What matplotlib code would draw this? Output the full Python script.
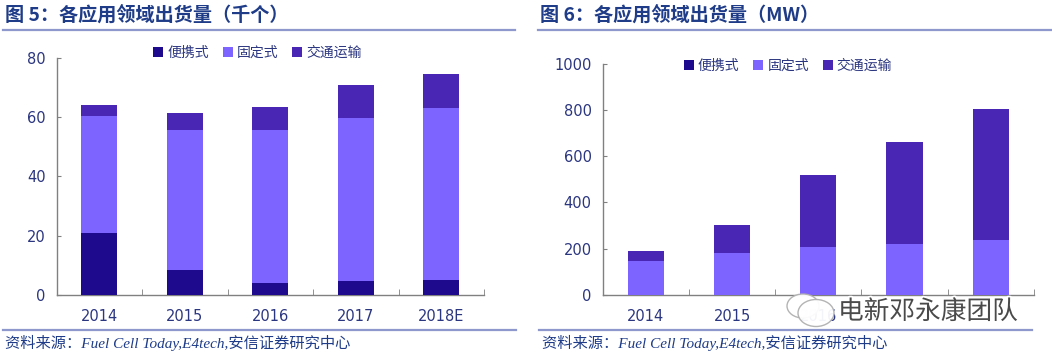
import matplotlib
matplotlib.use("Agg")
import matplotlib.pyplot as plt
from matplotlib.lines import Line2D
from matplotlib.patches import Ellipse
import matplotlib.patheffects as pe
import numpy as np

plt.rcParams['font.family'] = ['Noto Sans CJK SC', 'DejaVu Sans']

years = ["2014", "2015", "2016", "2017", "2018E"]
series_names = ["便携式", "固定式", "交通运输"]

# Chart 5: thousands of units
units_portable = [21.1, 8.5, 4.1, 4.9, 5.3]
units_fixed = [39.4, 47.1, 51.7, 54.9, 57.6]
units_transport = [3.4, 5.6, 7.6, 10.9, 11.7]

# Chart 6: MW
mw_portable = [1, 1, 1, 1, 1]
mw_fixed = [146, 182, 207, 220, 238]
mw_transport = [42, 120, 312, 441, 567]

colors = ["#1E0A8C", "#7D63FF", "#4A26B5"]
tick_color = "#2B3680"
title_color = "#1F3C88"
line_color = "#8F98CC"

W, H = 1052, 357
fig = plt.figure(figsize=(W / 100, H / 100), dpi=100)


def fx(px):
    return px / W


def fy(py):
    return 1 - py / H


def draw(ax, p, f, t, ymax, step):
    x = np.arange(len(years))
    wdt = 0.42
    ax.bar(x, p, wdt, color=colors[0], label=series_names[0], zorder=3)
    ax.bar(x, f, wdt, bottom=p, color=colors[1], label=series_names[1], zorder=3)
    bottom2 = np.array(p) + np.array(f)
    ax.bar(x, t, wdt, bottom=bottom2, color=colors[2], label=series_names[2], zorder=3)
    ax.set_xlim(-0.5, len(years) - 0.5)
    ax.set_ylim(0, ymax)
    ax.set_yticks(np.arange(0, ymax + 1, step))
    for s in ["top", "right"]:
        ax.spines[s].set_visible(False)
    for s in ["left", "bottom"]:
        ax.spines[s].set_color("#808080")
        ax.spines[s].set_linewidth(1.0)
    ax.set_xticks(x)
    ax.set_xticklabels(years)
    ax.set_xticks(np.arange(-0.5, len(years), 1.0), minor=True)
    ax.tick_params(axis="x", which="major", length=0, pad=10, labelsize=10.5,
                   labelcolor=tick_color)
    ax.tick_params(axis="x", which="minor", direction="in", length=4,
                   color="#808080")
    ax.tick_params(axis="y", direction="in", length=3, color="#808080",
                   pad=8, labelsize=10.5, labelcolor=tick_color)
    for lab in ax.get_xticklabels() + ax.get_yticklabels():
        lab.set_fontfamily(["DejaVu Sans"])
    return ax


ax1 = fig.add_axes([fx(56.6), fy(295.3), fx(484 - 56.6), (295.3 - 57.6) / H])
draw(ax1, units_portable, units_fixed, units_transport, 80, 20)
ax1.legend(loc="center", bbox_to_anchor=(0.47, 1.02), ncol=3, frameon=False,
           handlelength=0.7, handleheight=0.7, handletextpad=0.3,
           columnspacing=1.0, fontsize=10, labelcolor=tick_color)

ax2 = fig.add_axes([fx(602.8), fy(295.0), fx(1033.7 - 602.8), (295.0 - 63.7) / H])
draw(ax2, mw_portable, mw_fixed, mw_transport, 1000, 200)
ax2.legend(loc="center", bbox_to_anchor=(0.43, 0.99), ncol=3, frameon=False,
           handlelength=0.7, handleheight=0.7, handletextpad=0.3,
           columnspacing=1.0, fontsize=10, labelcolor=tick_color)

# titles
fig.text(fx(5), fy(15), "图 5：各应用领域出货量（千个）", fontsize=13.8,
         fontweight="bold", color=title_color, va="center", ha="left")
fig.text(fx(540), fy(15), "图 6：各应用领域出货量（MW）", fontsize=13.8,
         fontweight="bold", color=title_color, va="center", ha="left")

# separator lines
for (x0, x1, y) in [(3, 515, 29.5), (538, 1051, 29.5), (3, 516, 330), (539, 1032, 330)]:
    fig.add_artist(Line2D([fx(x0), fx(x1)], [fy(y), fy(y)], color=line_color,
                          lw=1.6, transform=fig.transFigure))

# sources
src = "资料来源：Fuel Cell Today,E4tech,安信证券研究中心"
for x0 in [5, 542]:
    fig.text(fx(x0), fy(343), src, fontsize=11, style="italic",
             family=["Liberation Serif", "Noto Sans CJK SC"], color=title_color,
             va="center", ha="left")

# watermark (covers part of the right chart's x labels, as in the reference)
for (cx, cy, w, h) in [(803, 306, 32, 24), (816, 313, 36, 27)]:
    fig.add_artist(Ellipse((fx(cx), fy(cy)), w / W, h / H, transform=fig.transFigure,
                           facecolor="white", edgecolor="#B0B0B0", lw=1.0, alpha=0.95,
                           zorder=10))
fig.text(fx(838), fy(312), "电新邓永康团队", fontsize=18.5, fontweight="light",
         color="#4A4A4A", va="center", ha="left", zorder=11,
         bbox=dict(boxstyle="square,pad=0.08", facecolor="white", edgecolor="none"),
         path_effects=[pe.withStroke(linewidth=2.5, foreground="white")])

fig.savefig("out.png", dpi=100)
